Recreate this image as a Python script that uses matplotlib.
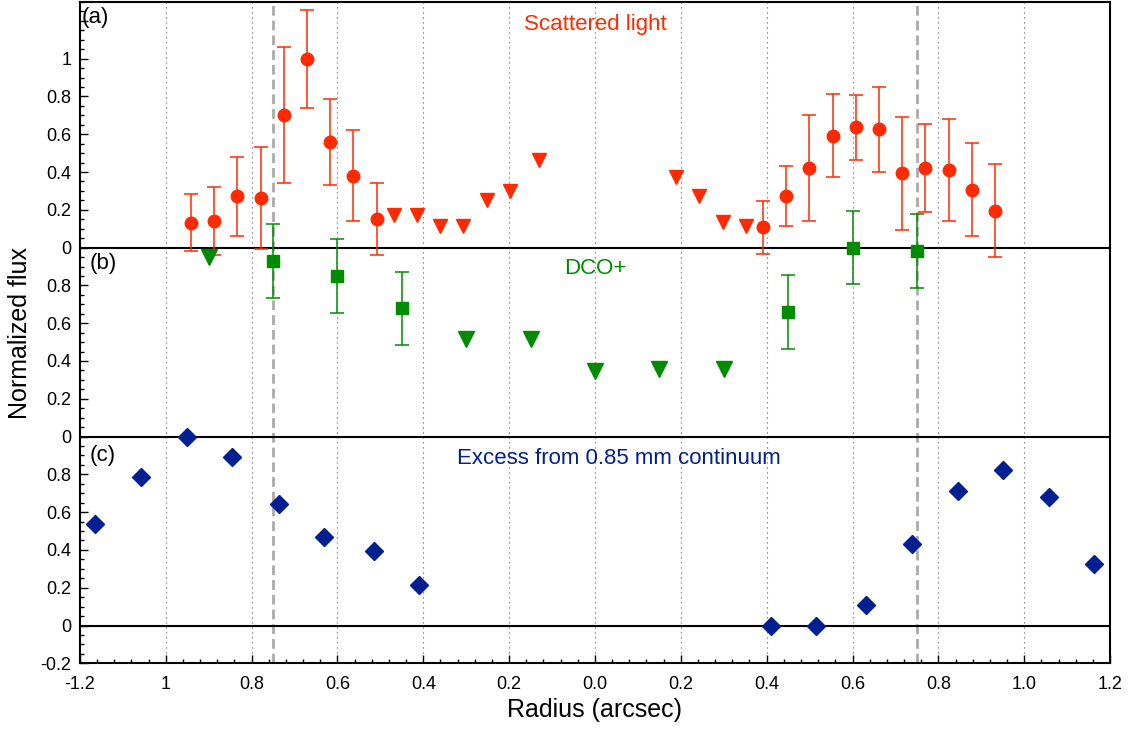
import matplotlib
matplotlib.use("Agg")
import matplotlib.pyplot as plt
from matplotlib.ticker import MultipleLocator

plt.rcParams['font.family'] = ['Liberation Sans', 'DejaVu Sans']

# (a) scattered light: detections with error bars, and upper limits
sc_x = [-0.941, -0.887, -0.833, -0.778, -0.725, -0.671, -0.617, -0.563, -0.509,
        0.392, 0.446, 0.499, 0.554, 0.607, 0.662, 0.715, 0.770, 0.824, 0.878, 0.932]
sc_y = [0.132, 0.139, 0.271, 0.264, 0.703, 1.000, 0.559, 0.381, 0.150,
        0.107, 0.273, 0.421, 0.593, 0.636, 0.626, 0.393, 0.421, 0.413, 0.307, 0.196]
sc_err = [0.15, 0.18, 0.21, 0.27, 0.36, 0.26, 0.23, 0.24, 0.19,
          0.14, 0.16, 0.28, 0.22, 0.17, 0.225, 0.30, 0.235, 0.27, 0.245, 0.245]
sc_lim_x = [-0.468, -0.414, -0.360, -0.307, -0.252, -0.198, -0.130,
            0.189, 0.243, 0.298, 0.351]
sc_lim_y = [0.175, 0.175, 0.114, 0.114, 0.254, 0.298, 0.462,
            0.374, 0.273, 0.134, 0.116]

# (b) DCO+
dco_x = [-0.75, -0.60, -0.45, 0.45, 0.60, 0.75]
dco_y = [0.930, 0.849, 0.678, 0.660, 1.000, 0.983]
dco_err = [0.195, 0.195, 0.195, 0.197, 0.195, 0.196]
dco_lim_x = [-0.90, -0.30, -0.15, 0.0, 0.15, 0.30]
dco_lim_y = [0.951, 0.516, 0.516, 0.347, 0.357, 0.357]

# (c) excess from 0.85 mm continuum
ex_x = [-1.164, -1.057, -0.951, -0.845, -0.737, -0.631, -0.516, -0.410,
        0.410, 0.516, 0.631, 0.738, 0.845, 0.951, 1.058, 1.163]
ex_y = [0.536, 0.787, 1.000, 0.893, 0.644, 0.466, 0.395, 0.215,
        0.0, 0.0, 0.110, 0.429, 0.714, 0.822, 0.679, 0.323]

xticks = [-1.2, -1.0, -0.8, -0.6, -0.4, -0.2, 0.0, 0.2, 0.4, 0.6, 0.8, 1.0, 1.2]
xticklabels = ["-1.2", "1", "0.8", "0.6", "0.4", "0.2", "0.0",
               "0.2", "0.4", "0.6", "0.8", "1.0", "1.2"]
yticks = [-0.2 + 0.2 * i for i in range(18)]
yticklabels = ["-0.2", "0", "0.2", "0.4", "0.6", "0.8",
               "0", "0.2", "0.4", "0.6", "0.8",
               "0", "0.2", "0.4", "0.6", "0.8", "1", ""]

red = "#ff2a00"
green = "#008c00"
blue = "#001f91"

fig = plt.figure(figsize=(11.42, 7.34), dpi=100)
ax = fig.add_axes([0.070, 0.0963, 0.902, 0.901])

# reference lines
for xv in [-1.0, -0.8, -0.6, -0.4, -0.2, 0.0, 0.2, 0.4, 0.6, 0.8, 1.0]:
    ax.axvline(xv, color="#555555", lw=0.8, ls=(0, (1, 3.5)), zorder=1)
for xv in [-0.75, 0.75]:
    ax.axvline(xv, color="#aaaaaa", lw=2, ls=(0, (3.5, 1.8)), zorder=1)
for yv in [0, 1, 2]:
    ax.axhline(yv, color="black", lw=1.5, zorder=2)

# panel offsets: a -> +2, b -> +1, c -> 0
ax.errorbar(sc_x, [v + 2 for v in sc_y], yerr=sc_err, fmt="o", color=red,
            ms=9, elinewidth=1.1, capsize=5, capthick=1.1, zorder=4)
ax.plot(sc_lim_x, [v + 2 for v in sc_lim_y], "v", color=red, ms=9.5, zorder=4)

ax.errorbar(dco_x, [v + 1 for v in dco_y], yerr=dco_err, fmt="s", color=green,
            ms=9, elinewidth=1.1, capsize=5, capthick=1.1, zorder=4)
ax.plot(dco_lim_x, [v + 1 for v in dco_lim_y], "v", color=green, ms=11.5, zorder=4)

ax.plot(ex_x, ex_y, "D", color=blue, ms=9, zorder=4)

ax.text(0.0, 3.154, "Scattered light", color=red, fontsize=16, ha="center", va="baseline")
ax.text(0.0, 1.860, "DCO+", color=green, fontsize=16, ha="center", va="baseline")
ax.text(0.056, 0.855, "Excess from 0.85 mm continuum", color=blue, fontsize=16,
        ha="center", va="baseline")
ax.text(-1.195, 3.19, "(a)", fontsize=16, va="baseline")
ax.text(-1.177, 1.885, "(b)", fontsize=16, va="baseline")
ax.text(-1.177, 0.87, "(c)", fontsize=16, va="baseline")

ax.set_xlim(-1.2, 1.2)
ax.set_ylim(-0.2, 3.3)
ax.set_xticks(xticks)
ax.set_xticklabels(xticklabels)
ax.set_yticks(yticks)
ax.set_yticklabels(yticklabels)
ax.xaxis.set_minor_locator(MultipleLocator(0.04))
ax.yaxis.set_minor_locator(MultipleLocator(0.05))
ax.tick_params(which="both", direction="in", top=False, right=False,
               labelsize=13, width=1)
ax.tick_params(axis="x", which="major", length=6, pad=9)
ax.tick_params(axis="y", which="major", length=6, pad=6)
ax.tick_params(which="minor", length=3)
for s in ax.spines.values():
    s.set_linewidth(1.5)

ax.set_xlabel("Radius (arcsec)", fontsize=18, labelpad=4)
ax.set_ylabel("Normalized flux", fontsize=18, labelpad=6)

fig.savefig("out.png", dpi=100)
